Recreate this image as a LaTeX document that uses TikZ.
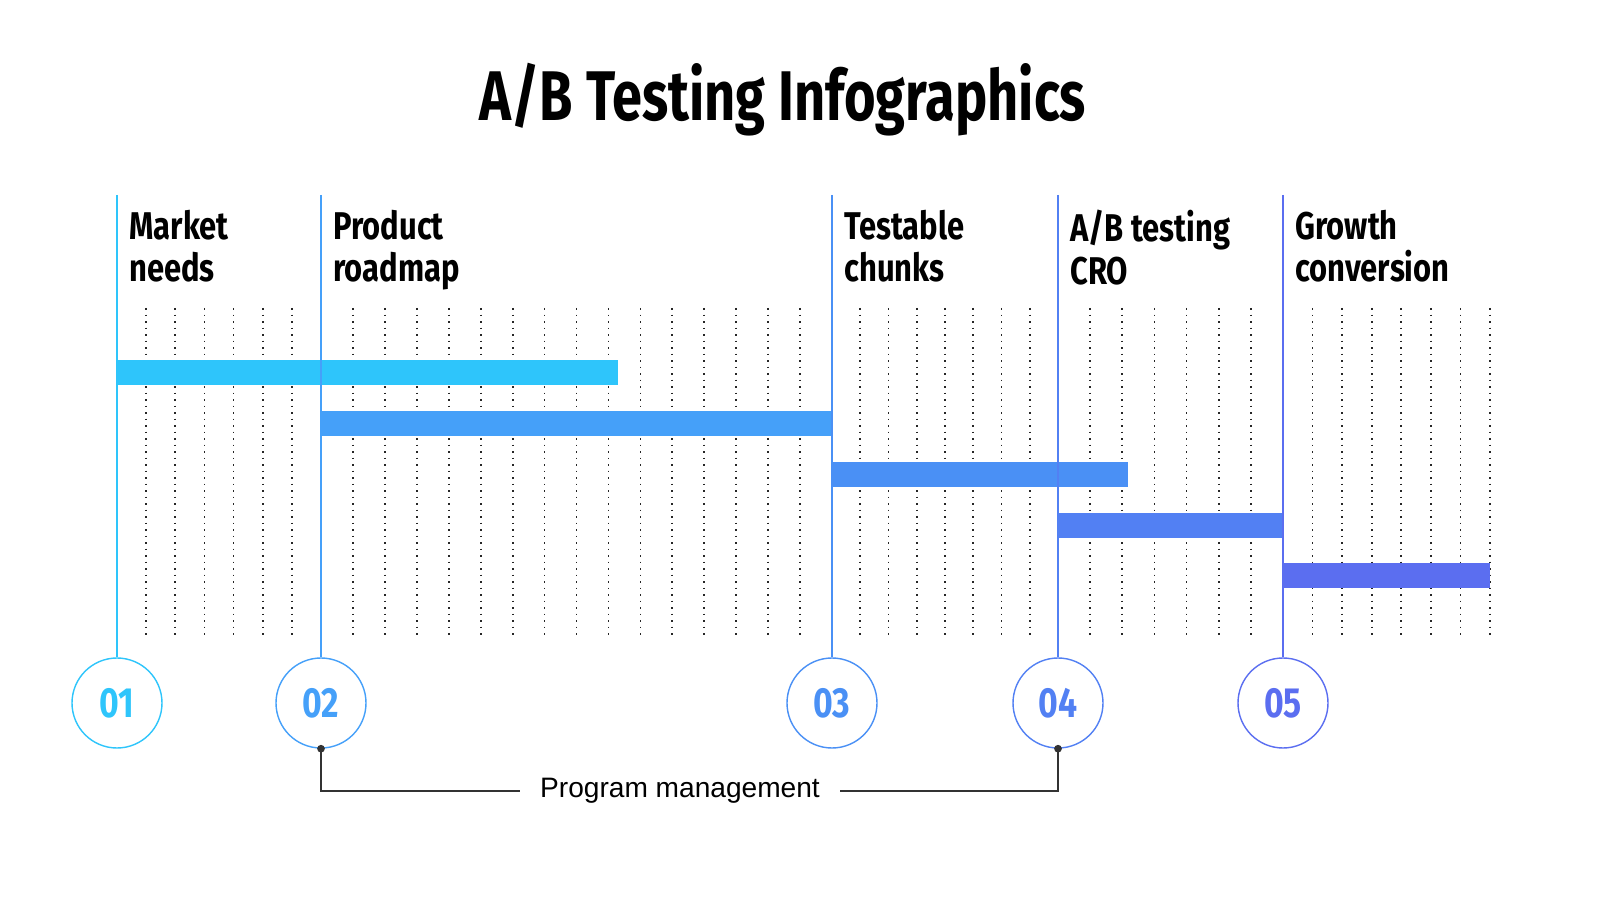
\documentclass[tikz,border=0pt]{standalone}
\usepackage{fontspec}
\setmainfont{Fira Sans}
\newfontfamily\condfont[FakeStretch=0.8]{Fira Sans}
\newfontfamily\titlefont[FakeStretch=0.77]{Fira Sans}
\newfontfamily\plainfont{Liberation Sans}
\usetikzlibrary{positioning}
\definecolor{cA}{HTML}{2EC5FB}
\definecolor{cB}{HTML}{45A0F9}
\definecolor{cC}{HTML}{4A90F5}
\definecolor{cD}{HTML}{5280F3}
\definecolor{cE}{HTML}{5B6EF0}
\tikzset{
  phase/.style={font=\condfont\bfseries\fontsize{22}{24}\selectfont, align=left, anchor=north west, inner sep=0pt},
  num/.style={circle, draw=#1, line width=0.8pt, minimum size=1.8cm, text=#1, font=\condfont\bfseries\fontsize{24}{26}\selectfont},
  bar/.style={fill=#1, draw=none},
  grid/.style={line width=1pt, dash pattern=on 1pt off 2.7pt, black!85}
}
\begin{document}
\begin{tikzpicture}
\useasboundingbox (0,0) rectangle (32,18);
% title
\node[font=\titlefont\bfseries\fontsize{40}{44}\selectfont] (title) at (15.66,16) {A/B Testing Infographics};
% dotted grid
\foreach \xa/\xb/\n in {2.34/6.42/7, 6.42/16.64/16, 16.64/21.16/8, 21.16/25.66/7, 25.66/29.8/7}{
  \pgfmathsetmacro{\dx}{(\xb-\xa)/\n}
  \foreach \i in {1,...,\n}{
    \draw[grid] ({\xa+\i*\dx},11.84) -- ({\xa+\i*\dx},5.3);
  }
}
% bars
\fill[bar=cA] (2.34,10.8) rectangle (12.36,10.3);
\fill[bar=cB] (6.42,9.78) rectangle (16.64,9.28);
\fill[bar=cC] (16.64,8.76) rectangle (22.56,8.26);
\fill[bar=cD] (21.16,7.74) rectangle (25.66,7.24);
\fill[bar=cE] (25.66,6.74) rectangle (29.8,6.24);
% phases
\foreach \x/\c/\t/\lbl [count=\k] in {2.34/cA/01/{Market\\needs}, 6.42/cB/02/{Product\\roadmap}, 16.64/cC/03/{Testable\\chunks}, 21.16/cD/04/{A/B testing\\CRO}, 25.66/cE/05/{Growth\\conversion}}{
  \node[num=\c] (n\k) at (\x,3.94) {\t};
  \coordinate (top\k) at (\x,14.1);
  \draw[\c, line width=0.8pt] (top\k) -- (n\k.north);
  \node[phase] (p\k) at (\x+0.24,13.8) {\lbl};
}
% program management
\node[font=\plainfont\fontsize{16}{18}\selectfont, inner xsep=0.4cm] (pm) at (13.6,2.18) {Program management};
\fill[black!80] (n2.south) circle (2.2pt);
\fill[black!80] (n4.south) circle (2.2pt);
\draw[black!80, line width=0.8pt] (n2.south) |- (pm.west);
\draw[black!80, line width=0.8pt] (n4.south) |- (pm.east);
\end{tikzpicture}
\end{document}
